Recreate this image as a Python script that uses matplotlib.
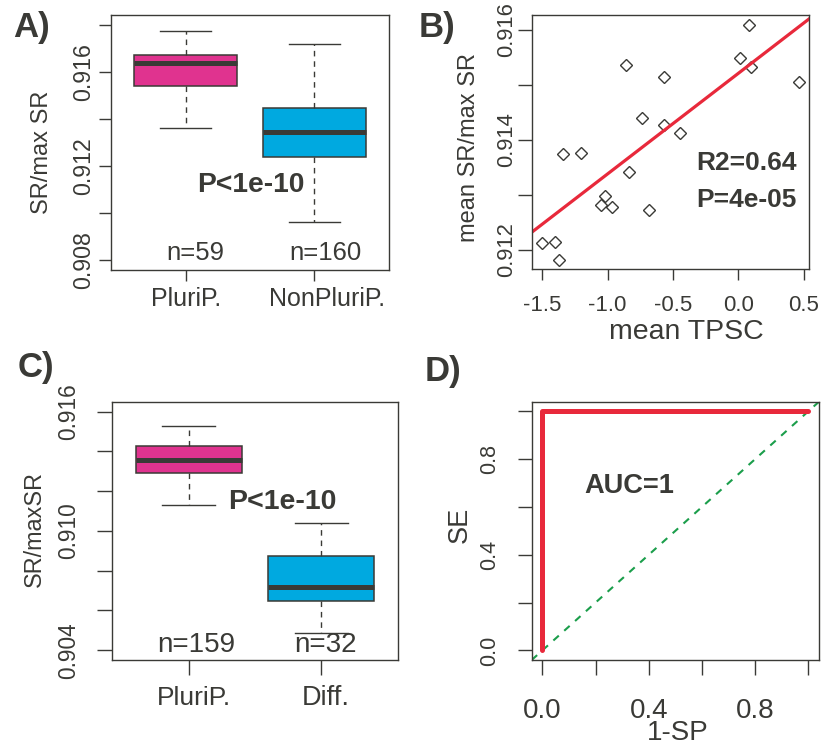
import numpy as np
import matplotlib
matplotlib.use('Agg')
from matplotlib import pyplot as plt

plt.rcParams['font.family'] = ['Liberation Sans', 'DejaVu Sans']

DARK = '#3a3a36'
MAGENTA = '#e0338f'
CYAN = '#00a9e0'
RED = '#e8293b'
GREEN = '#1b9e4b'

# A) boxplot stats: PluriP., NonPluriP.
a_groups = ['PluriP.', 'NonPluriP.']
a_counts = ['n=59', 'n=160']
a_whislo = [0.91363, 0.90962]
a_q1 = [0.91540, 0.91240]
a_med = [0.91637, 0.91343]
a_q3 = [0.91672, 0.91447]
a_whishi = [0.91774, 0.91720]
a_yticks = [0.908, 0.910, 0.912, 0.914, 0.916, 0.918]
a_ylabels = ['0.908', '', '0.912', '', '0.916', '']

# B) mean TPSC vs mean SR/max SR
b_tpsc = [0.079, 0.012, 0.094, 0.461, -0.862, -0.572, -0.735, -0.567, -0.447,
          -1.339, -1.207, -0.834, -1.021, -1.054, -0.964, -0.686, -1.500,
          -1.403, -1.372]
b_sr = [0.91609, 0.91548, 0.91532, 0.91505, 0.91536, 0.91514, 0.91439,
        0.91428, 0.91413, 0.91375, 0.91376, 0.91341, 0.91299, 0.91282,
        0.91279, 0.91272, 0.91212, 0.91215, 0.91181]
b_intercept = 0.91521
b_slope = 0.001827
b_xticks = [-1.5, -1.0, -0.5, 0.0, 0.5]
b_xlabels = ['-1.5', '-1.0', '-0.5', '0.0', '0.5']
b_yticks = [0.912, 0.913, 0.914, 0.915, 0.916]
b_ylabels = ['0.912', '', '0.914', '', '0.916']

# C) boxplot stats: PluriP., Diff.
c_groups = ['PluriP.', 'Diff.']
c_counts = ['n=159', 'n=32']
c_whislo = [0.91133, 0.90489]
c_q1 = [0.91293, 0.90650]
c_med = [0.91357, 0.90718]
c_q3 = [0.91428, 0.90875]
c_whishi = [0.91527, 0.91039]
c_yticks = [0.904, 0.906, 0.908, 0.910, 0.912, 0.914, 0.916]
c_ylabels = ['0.904', '', '', '0.910', '', '', '0.916']

# D) ROC curve
d_fpr = [0.0, 0.0, 1.0]
d_tpr = [0.0, 1.0, 1.0]
d_ticks = [0.0, 0.2, 0.4, 0.6, 0.8, 1.0]
d_labels = ['0.0', '', '0.4', '', '0.8', '']

W, H = 825, 746
fig = plt.figure(figsize=(W / 100, H / 100), dpi=100)


def px_axes(x0, y0, x1, y1):
    return fig.add_axes([x0 / W, 1 - y1 / H, (x1 - x0) / W, (y1 - y0) / H])


def ptext(x, y, s, size, bold=False, rot=0):
    fig.text(x / W, 1 - y / H, s, fontsize=size, color=DARK, rotation=rot,
             ha='center', va='center', fontweight='bold' if bold else 'normal')


def style(ax):
    for sp in ax.spines.values():
        sp.set_color(DARK)
        sp.set_linewidth(1.0)
    ax.tick_params(colors=DARK, width=1.0)
    for lab in ax.get_yticklabels():
        lab.set_rotation(90)
        lab.set_va('center')


def boxes(ax, whislo, q1, med, q3, whishi, colors):
    stats = [dict(whislo=a, q1=b, med=c, q3=d, whishi=e)
             for a, b, c, d, e in zip(whislo, q1, med, q3, whishi)]
    bp = ax.bxp(stats, positions=[1, 2], widths=0.8, capwidths=0.4,
                showfliers=False, patch_artist=True,
                boxprops=dict(edgecolor=DARK, linewidth=1.1),
                medianprops=dict(color=DARK, linewidth=3.6, solid_capstyle='butt'),
                whiskerprops=dict(color=DARK, linewidth=1.0, linestyle=(0, (4, 3.5))),
                capprops=dict(color=DARK, linewidth=1.0))
    for patch, col in zip(bp['boxes'], colors):
        patch.set_facecolor(col)
    ax.set_xlim(0.42, 2.58)


# ---- A ----
axA = px_axes(111, 15, 389, 270)
boxes(axA, a_whislo, a_q1, a_med, a_q3, a_whishi, [MAGENTA, CYAN])
axA.set_ylim(0.90757, 0.91843)
axA.set_yticks(a_yticks, a_ylabels, fontsize=16.7)
axA.set_xticks([1, 2], ['', ''])
axA.tick_params(axis='y', length=9, pad=2.5)
axA.tick_params(axis='x', length=8)
style(axA)
ptext(32, 27, 'A)', 25, bold=True)
ptext(42, 152, 'SR/max SR', 17, rot=90)
ptext(251, 185, 'P<1e-10', 20.3, bold=True)
ptext(195, 253, a_counts[0], 18.5)
ptext(325, 253, a_counts[1], 18.5)
ptext(186, 299, a_groups[0], 18)
ptext(327, 299, a_groups[1], 18)

# ---- B ----
axB = px_axes(531.7, 15, 809.3, 268.7)
axB.plot(b_tpsc, b_sr, linestyle='none', marker='D', markersize=6,
         markerfacecolor='none', markeredgecolor=DARK, markeredgewidth=1.0)
axB.axline((0, b_intercept), slope=b_slope, color=RED, linewidth=2.3)
axB.set_xlim(-1.581, 0.543)
axB.set_ylim(0.91166, 0.91627)
axB.set_xticks(b_xticks, b_xlabels, fontsize=16)
axB.set_yticks(b_yticks, b_ylabels, fontsize=15.8)
axB.tick_params(axis='y', length=10, pad=0.5)
axB.tick_params(axis='x', length=8, pad=11)
style(axB)
ptext(437, 27, 'B)', 25, bold=True)
ptext(469, 147, 'mean SR/max SR', 17, rot=90)
ptext(686, 332, 'mean TPSC', 20.5)
ptext(746, 163, 'R2=0.64', 19, bold=True)
ptext(746, 200, 'P=4e-05', 19, bold=True)

# ---- C ----
axC = px_axes(111.7, 401.7, 398.3, 660)
boxes(axC, c_whislo, c_q1, c_med, c_q3, c_whishi, [MAGENTA, CYAN])
axC.set_ylim(0.90351, 0.9165)
axC.set_yticks(c_yticks, c_ylabels, fontsize=16.3)
axC.set_xticks([1, 2], ['', ''])
axC.tick_params(axis='y', length=11, pad=12)
axC.tick_params(axis='x', length=11)
style(axC)
ptext(36, 367, 'C)', 25, bold=True)
ptext(34, 529, 'SR/maxSR', 16.8, rot=90)
ptext(282, 502, 'P<1e-10', 20.5, bold=True)
ptext(196, 645, c_counts[0], 20)
ptext(325, 645, c_counts[1], 20)
ptext(194, 698, c_groups[0], 19)
ptext(326, 698, c_groups[1], 19.5)

# ---- D ----
axD = px_axes(531.7, 401.7, 819, 660)
axD.axline((0, 0), slope=1, color=GREEN, linewidth=1.5, linestyle=(0, (3.5, 3.5)))
axD.plot(d_fpr, d_tpr, color=RED, linewidth=3.6, solid_joinstyle='round',
         solid_capstyle='round')
axD.set_xlim(-0.04, 1.04)
axD.set_ylim(-0.04, 1.04)
axD.set_xticks(d_ticks, d_labels, fontsize=20)
axD.set_yticks(d_ticks, d_labels, fontsize=15.5)
axD.tick_params(axis='y', length=10, pad=12.5)
axD.tick_params(axis='x', length=11, pad=16)
style(axD)
ptext(443, 372, 'D)', 25, bold=True)
ptext(460, 525, 'SE', 19.5, rot=90)
ptext(677.5, 733, '1-SP', 20)
ptext(629, 486, 'AUC=1', 19.6, bold=True)

fig.savefig('out.png', dpi=100)
